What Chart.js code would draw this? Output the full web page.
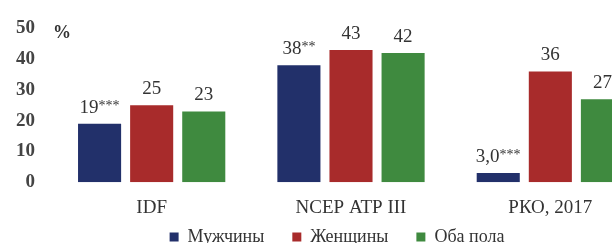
<!DOCTYPE html>
<html>
<head>
<meta charset="utf-8">
<script src="https://cdn.jsdelivr.net/npm/chart.js@4"></script>
<style>
  body { margin: 0; overflow: hidden; background: #fff; }
  #wrap { width: 612px; height: 243px; overflow: hidden; }
</style>
</head>
<body>
<div id="wrap"><canvas id="myChart" width="652" height="243"></canvas></div>
<script>
// categories and values
const categorias = ['IDF', 'NCEP ATP III', 'РКО, 2017'];
const homens = [19, 38, 3.0];
const mulheres = [25, 43, 36];
const ambos = [23, 42, 27];

// text above each bar (number + asterisks)
const rotHomens = [['19', '***'], ['38', '**'], ['3,0', '***']];
const rotMulheres = [['25', ''], ['43', ''], ['36', '']];
const rotAmbos = [['23', ''], ['42', ''], ['27', '']];

const serif = '"Liberation Serif", "DejaVu Serif", serif';

const rotulos = {
  id: 'rotulos',
  afterLayout(chart) {
    // move the legend row to where it sits in the reference
    const lg = chart.legend;
    const dx = 12;
    const dy = 200 - lg.top;
    lg.left += dx; lg.right += dx;
    lg.top += dy; lg.bottom += dy;
  },
  afterDatasetsDraw(chart) {
    const ctx = chart.ctx;
    const todos = [rotHomens, rotMulheres, rotAmbos];
    ctx.save();
    ctx.fillStyle = '#333';
    ctx.textBaseline = 'alphabetic';
    chart.data.datasets.forEach((ds, i) => {
      chart.getDatasetMeta(i).data.forEach((bar, j) => {
        const num = todos[i][j][0];
        const ast = todos[i][j][1];
        ctx.font = '19px ' + serif;
        const w1 = ctx.measureText(num).width;
        ctx.font = '14px ' + serif;
        const w2 = ctx.measureText(ast).width;
        const x0 = bar.x - (w1 + w2) / 2;
        const y = bar.y - 11;
        ctx.font = '19px ' + serif;
        ctx.textAlign = 'left';
        ctx.fillText(num, x0, y);
        ctx.font = '14px ' + serif;
        ctx.fillText(ast, x0 + w1, y - 3);
      });
    });
    // unidade "%"
    const ys = chart.scales.y;
    ctx.font = 'bold 18px ' + serif;
    ctx.textAlign = 'left';
    ctx.textBaseline = 'middle';
    ctx.fillText('%', chart.chartArea.left + 1, ys.getPixelForValue(50) + 5);
    ctx.restore();
  }
};

const canvas = document.getElementById('myChart');
const ctx = canvas.getContext('2d');

const chart = new Chart(ctx, {
  type: 'bar',
  data: {
    labels: categorias,
    datasets: [{
      label: 'Мужчины',
      data: homens,
      backgroundColor: '#22306a',
      borderWidth: 0
    }, {
      label: 'Женщины',
      data: mulheres,
      backgroundColor: '#a82b2b',
      borderWidth: 0
    }, {
      label: 'Оба пола',
      data: ambos,
      backgroundColor: '#3f8a3f',
      borderWidth: 0
    }]
  },
  options: {
    responsive: false,
    animation: false,
    layout: { padding: { top: 13, right: 2, left: 0, bottom: -46 } },
    datasets: {
      bar: { categoryPercentage: 0.784, barPercentage: 0.827 }
    },
    scales: {
      x: {
        grid: { display: false, drawTicks: false },
        border: { display: false },
        ticks: {
          color: '#333',
          font: { family: serif, size: 19 },
          padding: 14
        }
      },
      y: {
        min: 0,
        max: 50,
        afterFit: s => { s.width = 52; },
        grid: { display: false, drawTicks: false },
        border: { display: false },
        ticks: {
          stepSize: 10,
          color: '#444',
          font: { family: serif, size: 19, weight: 'bold' },
          padding: 17
        }
      }
    },
    plugins: {
      tooltip: { enabled: false },
      legend: {
        position: 'bottom',
        labels: {
          color: '#333',
          font: { family: serif, size: 18 },
          boxWidth: 9,
          boxHeight: 9,
          padding: 28
        }
      }
    }
  },
  plugins: [rotulos]
});
</script>
</body>
</html>
